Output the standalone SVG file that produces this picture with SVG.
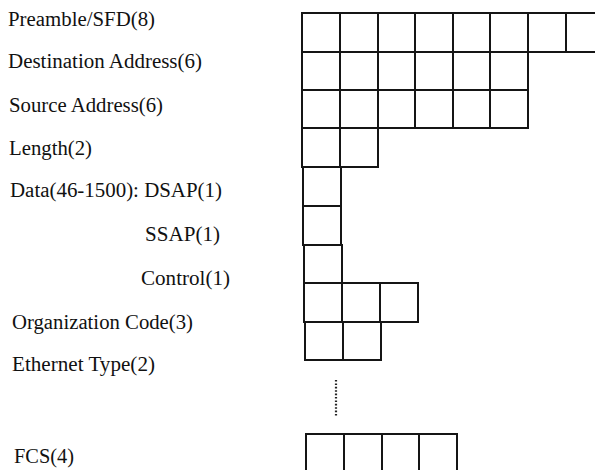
<svg xmlns="http://www.w3.org/2000/svg" width="595" height="470" viewBox="0 0 595 470">
<style>
.c{fill:none;stroke:#151515;stroke-width:2;stroke-linejoin:miter}
text{font-family:'Liberation Serif','DejaVu Serif',serif;font-size:20.5px;fill:#111}
.dot{stroke:#222;stroke-width:2.2;stroke-dasharray:1.6 1.8;fill:none}
</style>
<rect width="595" height="470" fill="#ffffff"/>
<g id="preamble">
<text x="8" y="26" textLength="147" lengthAdjust="spacingAndGlyphs">Preamble/SFD(8)</text>
<path class="c" d="M302,13H606V52H302Z M340,13V52 M378,13V52 M415,13V52 M453,13V52 M490,13V52 M528,13V52 M566,13V52"/>
</g>
<g id="dest">
<text x="8" y="68" textLength="194" lengthAdjust="spacingAndGlyphs">Destination Address(6)</text>
<path class="c" d="M302,52H528V90H302Z M340,52V90 M378,52V90 M415,52V90 M453,52V90 M490,52V90"/>
</g>
<g id="source">
<text x="9" y="112" textLength="154" lengthAdjust="spacingAndGlyphs">Source Address(6)</text>
<path class="c" d="M302,90H528V128H302Z M340,90V128 M378,90V128 M415,90V128 M453,90V128 M490,90V128"/>
</g>
<g id="length">
<text x="9" y="155" textLength="83" lengthAdjust="spacingAndGlyphs">Length(2)</text>
<path class="c" d="M302,128H378V167H302Z M340,128V167"/>
</g>
<g id="dsap">
<text x="10" y="197" textLength="212" lengthAdjust="spacingAndGlyphs">Data(46-1500): DSAP(1)</text>
<path class="c" d="M303,167H341V206H303Z"/>
</g>
<g id="ssap">
<text x="145" y="241" textLength="75" lengthAdjust="spacingAndGlyphs">SSAP(1)</text>
<path class="c" d="M303,206H341V245H303Z"/>
</g>
<g id="control">
<text x="141" y="285" textLength="89" lengthAdjust="spacingAndGlyphs">Control(1)</text>
<path class="c" d="M304,245H342V283H304Z"/>
</g>
<g id="orgcode">
<text x="12" y="329" textLength="181" lengthAdjust="spacingAndGlyphs">Organization Code(3)</text>
<path class="c" d="M304,283H418V322H304Z M342,283V322 M380,283V322"/>
</g>
<g id="ethertype">
<text x="12" y="371" textLength="143" lengthAdjust="spacingAndGlyphs">Ethernet Type(2)</text>
<path class="c" d="M305,322H381V360H305Z M343,322V360"/>
</g>
<g id="fcs">
<text x="14" y="463" textLength="60" lengthAdjust="spacingAndGlyphs">FCS(4)</text>
<path class="c" d="M306,434H457V474H306Z M344,434V474 M382,434V474 M419,434V474"/>
</g>
<g id="connectors">
<line class="dot" x1="336" y1="380" x2="336" y2="417"/>
</g>
</svg>
